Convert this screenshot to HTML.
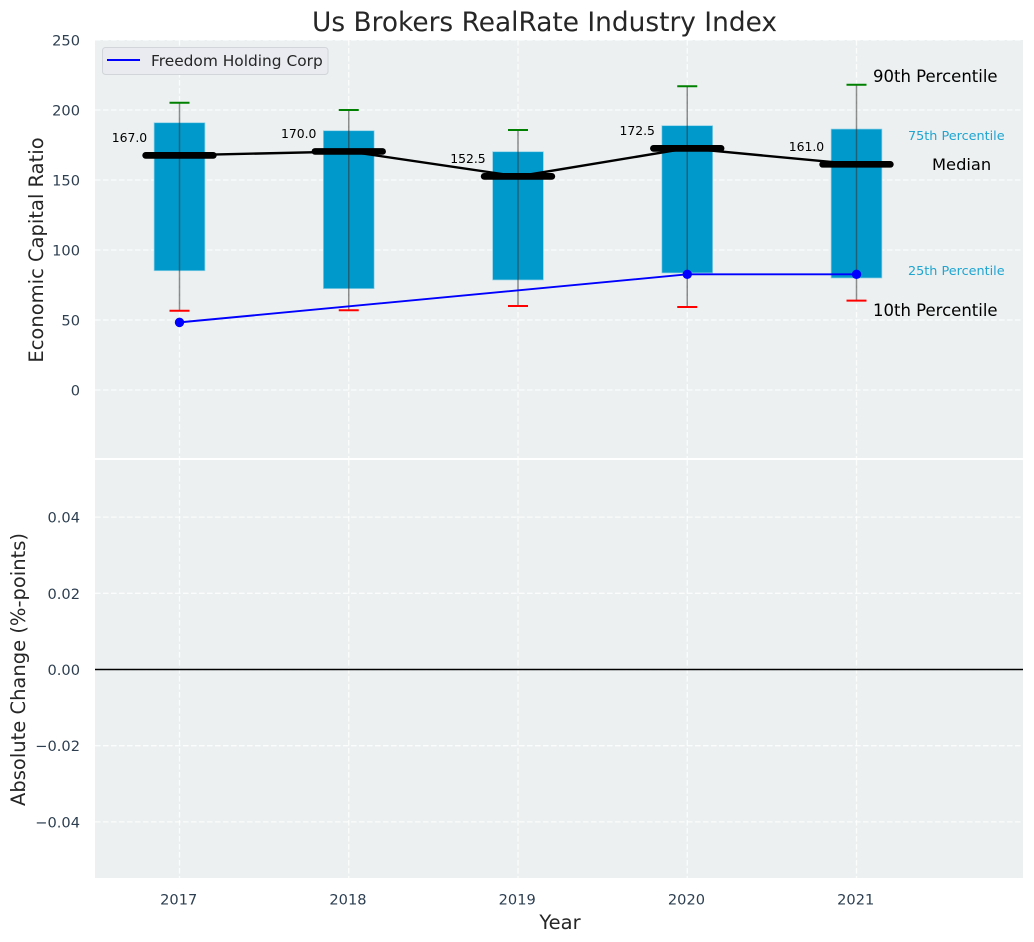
<!DOCTYPE html>
<html lang="en">
<head>
<meta charset="utf-8">
<title>Us Brokers RealRate Industry Index</title>
<style>
html,body{margin:0;padding:0;background:#fff;width:1034px;height:942px;overflow:hidden}
svg{display:block}
text{font-family:"DejaVu Sans","Liberation Sans",sans-serif}
.tick{font-size:14.6px;fill:#2c3e50}
.axis{font-size:19.5px;fill:#262626}
</style>
</head>
<body>
<svg id="chart" width="1034" height="942" viewBox="0 0 1034 942" xmlns="http://www.w3.org/2000/svg">
  <rect x="95" y="40" width="928" height="418" fill="#ecf0f1"/>
  <rect x="95" y="460" width="928" height="418" fill="#ecf0f1"/>
  <g id="grid"></g>
  <g id="marks"></g>
  <g id="labels"></g>
  <text x="544.5" y="31" text-anchor="middle" font-size="26.4" fill="#262626">Us Brokers RealRate Industry Index</text>
  <text x="560" y="929" text-anchor="middle" class="axis">Year</text>
  <text transform="translate(43,250) rotate(-90)" text-anchor="middle" class="axis">Economic Capital Ratio</text>
  <text transform="translate(25,669.5) rotate(-90)" text-anchor="middle" class="axis">Absolute Change (%-points)</text>
  <g>
    <rect x="102.5" y="47.5" width="225.5" height="27" rx="3" fill="#e9ebf0" stroke="#d2d5d9" stroke-width="1"/>
    <line x1="107" y1="60" x2="140" y2="60" stroke="#0000ff" stroke-width="2"/>
    <text x="151" y="66" font-size="15.4" fill="#262626">Freedom Holding Corp</text>
  </g>
  <g>
    <text x="873" y="82" font-size="16.5" fill="#000">90th Percentile</text>
    <text x="908" y="140" font-size="12.8" fill="#1fa5d0">75th Percentile</text>
    <text x="932" y="170" font-size="16.3" fill="#000">Median</text>
    <text x="908" y="275" font-size="12.8" fill="#1fa5d0">25th Percentile</text>
    <text x="873" y="316" font-size="16.5" fill="#000">10th Percentile</text>
  </g>
</svg>
<script>
const years = [2017, 2018, 2019, 2020, 2021];
const p90 = [205.2, 200, 185.7, 217, 218];
const p75 = [190.9, 185.2, 170.2, 188.8, 186.4];
const medians = [167.6, 170.4, 152.6, 172.6, 161.2];
const medianLabels = ['167.0', '170.0', '152.5', '172.5', '161.0'];
const p25 = [85.2, 72.4, 78.6, 83.6, 80];
const p10 = [56.6, 57, 60, 59.3, 63.8];
const company = [48.3, null, null, 82.6, 82.6];
const topTicks = [0, 50, 100, 150, 200, 250];
const bottomTicks = [-0.04, -0.02, 0, 0.02, 0.04];

const NS = 'http://www.w3.org/2000/svg';
const xScale = v => 179.5 + (v - 2017) * 169.25;
const yTop = v => 390 - v * 1.4;
const yBottom = v => 669.5 - v * 3810;
const minus = '\u2212';

function make(tag, attrs, parent) {
  const el = document.createElementNS(NS, tag);
  for (const k in attrs) el.setAttribute(k, attrs[k]);
  parent.appendChild(el);
  return el;
}
const gridG = document.getElementById('grid');
const marksG = document.getElementById('marks');
const labelsG = document.getElementById('labels');
const dash = {stroke: '#ffffff', 'stroke-width': 1.3, 'stroke-dasharray': '5.6 2.4', 'stroke-opacity': 0.8};

topTicks.forEach(t => {
  const g = make('line', Object.assign({x1: 95, x2: 1023, y1: yTop(t), y2: yTop(t)}, dash), gridG);
  
  
  const lab = make('text', {x: 80, y: yTop(t) + 5.5, 'text-anchor': 'end', class: 'tick'}, labelsG);
  
  
  lab.textContent = String(t);
});
bottomTicks.forEach(t => {
  const g = make('line', Object.assign({x1: 95, x2: 1023, y1: yBottom(t), y2: yBottom(t)}, dash), gridG);
  
  
  const lab = make('text', {x: 80, y: yBottom(t) + 5.5, 'text-anchor': 'end', class: 'tick'}, labelsG);
  
  
  lab.textContent = (t < 0 ? minus : '') + Math.abs(t).toFixed(2);
});
years.forEach(y => {
  const a = make('line', Object.assign({x1: xScale(y), x2: xScale(y), y1: 40, y2: 458}, dash), gridG);
  
  
  const b = make('line', Object.assign({x1: xScale(y), x2: xScale(y), y1: 460, y2: 878}, dash), gridG);
  
  
  const lab = make('text', {x: xScale(y) - 0.8, y: 904.5, 'text-anchor': 'middle', class: 'tick'}, labelsG);
  
  
  lab.textContent = String(y);
});

const zero = make('line', {x1: 95, x2: 1023, y1: yBottom(0), y2: yBottom(0), stroke: '#000', 'stroke-width': 1.5}, marksG);



years.forEach((y, i) => {
  const cx = xScale(y);
  const box = make('rect', {x: xScale(y - 0.15), y: yTop(p75[i]), width: xScale(y + 0.15) - xScale(y - 0.15), height: yTop(p25[i]) - yTop(p75[i]), fill: '#0099cc', stroke: '#8fd0e6', 'stroke-width': 0.7}, marksG);
  
  
  const w = make('line', {x1: cx, x2: cx, y1: yTop(p90[i]), y2: yTop(p10[i]), stroke: '#333', 'stroke-opacity': 0.55, 'stroke-width': 1.5}, marksG);
  
  
  const hi = make('line', {x1: cx - 10, x2: cx + 10, y1: yTop(p90[i]), y2: yTop(p90[i]), stroke: '#008000', 'stroke-width': 2}, marksG);
  
  
  const lo = make('line', {x1: cx - 10, x2: cx + 10, y1: yTop(p10[i]), y2: yTop(p10[i]), stroke: '#ff0000', 'stroke-width': 2}, marksG);
  
  
});

const medianLine = make('polyline', {points: years.map((y, i) => xScale(y) + ',' + yTop(medians[i])).join(' '), fill: 'none', stroke: '#000', 'stroke-width': 2.4}, marksG);



years.forEach((y, i) => {
  const m = make('line', {x1: xScale(y - 0.2), x2: xScale(y + 0.2), y1: yTop(medians[i]), y2: yTop(medians[i]), stroke: '#000', 'stroke-width': 6.7, 'stroke-linecap': 'round'}, marksG);
  
  
  const t = make('text', {x: xScale(y) - 32.3, y: yTop(medians[i]) - 13.5, 'text-anchor': 'end', 'font-size': 12.4, fill: '#000'}, labelsG);
  
  
  t.textContent = medianLabels[i];
});

const companyPts = years.map((y, i) => [y, company[i]]).filter(p => p[1] !== null);
const companyLine = make('polyline', {points: companyPts.map(p => xScale(p[0]) + ',' + yTop(p[1])).join(' '), fill: 'none', stroke: '#0000ff', 'stroke-width': 1.9}, marksG);


companyPts.forEach(p => {
  const c = make('circle', {cx: xScale(p[0]), cy: yTop(p[1]), r: 4.7, fill: '#0000ff'}, marksG);
  
  
});
</script>
</body>
</html>
